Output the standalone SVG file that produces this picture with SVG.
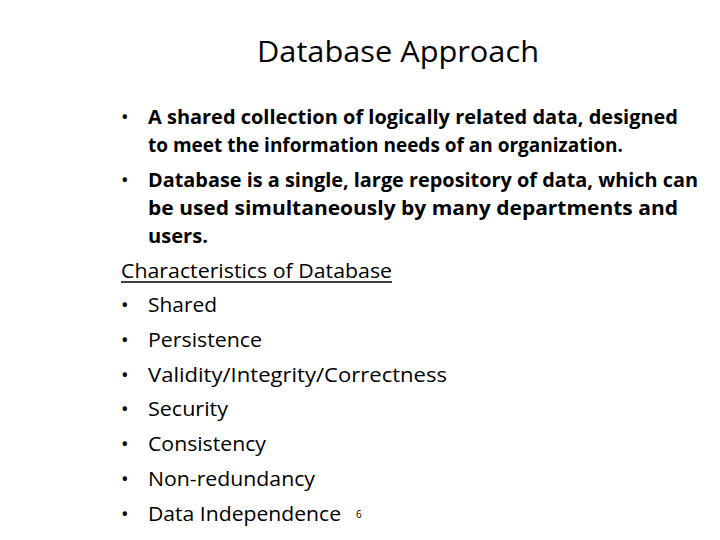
<svg xmlns="http://www.w3.org/2000/svg" width="720" height="540" viewBox="0 0 720 540">
<style>
text{font-family:"Open Sans","Liberation Sans",sans-serif;fill:#000}
.b{font-size:20px;font-weight:bold}
.n{font-size:20px}
.d{font-weight:normal}
</style>
<rect width="720" height="540" fill="#fff"/>
<text x="398" y="62" font-size="29" text-anchor="middle" textLength="282" lengthAdjust="spacingAndGlyphs">Database Approach</text>
<g class="b">
<text class="d" x="121" y="124">•</text>
<text x="148" y="124" textLength="530" lengthAdjust="spacingAndGlyphs">A shared collection of logically related data, designed</text>
<text x="148" y="152" textLength="475" lengthAdjust="spacingAndGlyphs">to meet the information needs of an organization.</text>
<text class="d" x="121" y="187">•</text>
<text x="148" y="187" textLength="550" lengthAdjust="spacingAndGlyphs">Database is a single, large repository of data, which can</text>
<text x="148" y="215" textLength="530" lengthAdjust="spacingAndGlyphs">be used simultaneously by many departments and</text>
<text x="148" y="243" textLength="60" lengthAdjust="spacingAndGlyphs">users.</text>
</g>
<g class="n">
<text x="121" y="278" textLength="271" lengthAdjust="spacingAndGlyphs">Characteristics of Database</text>
<line x1="121" y1="282" x2="392" y2="282" stroke="#000" stroke-width="1.5"/>
<text x="121" y="312">•</text><text x="148" y="312" textLength="69" lengthAdjust="spacingAndGlyphs">Shared</text>
<text x="121" y="347">•</text><text x="148" y="347" textLength="114" lengthAdjust="spacingAndGlyphs">Persistence</text>
<text x="121" y="382">•</text><text x="148" y="382" textLength="299" lengthAdjust="spacingAndGlyphs">Validity/Integrity/Correctness</text>
<text x="121" y="416">•</text><text x="148" y="416" textLength="80" lengthAdjust="spacingAndGlyphs">Security</text>
<text x="121" y="451">•</text><text x="148" y="451" textLength="118" lengthAdjust="spacingAndGlyphs">Consistency</text>
<text x="121" y="486">•</text><text x="148" y="486" textLength="167" lengthAdjust="spacingAndGlyphs">Non-redundancy</text>
<text x="121" y="521">•</text><text x="148" y="521" textLength="193" lengthAdjust="spacingAndGlyphs">Data Independence</text>
</g>
<text x="356" y="518" font-size="10" fill="#555">6</text>
</svg>
